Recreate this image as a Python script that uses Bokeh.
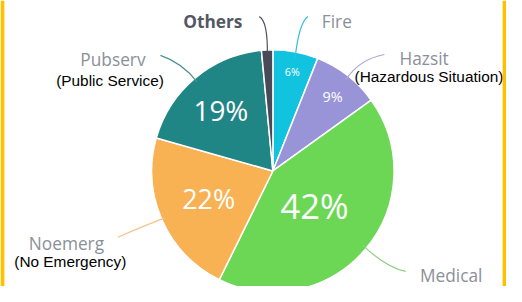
import math
from bokeh.plotting import figure
from bokeh.models import ColumnDataSource
from bokeh.core.properties import value
from bokeh.embed import file_html
from bokeh.resources import INLINE

# ---- data ----
categories = ["Fire", "Hazsit", "Medical", "Noemerg", "Pubserv", "Others"]
subtitles = ["", "(Hazardous Situation)", "", "(No Emergency)", "(Public Service)", ""]
shares = [6, 9, 42, 22, 19, 1.5]
pct_labels = ["6%", "9%", "42%", "22%", "19%", ""]

# ---- styles ----
colors = ["#12c3e0", "#9994d8", "#6bd755", "#f8b153", "#1f8585", "#474a58"]
leader_colors = ["#2ec0dc", "#a9a5de", "#8cd07f", "#f2c48c", "#4a8f8f", "#4c4f5c"]
pct_r = [0.85, 0.80, 0.45, 0.58, 0.67, 0]
pct_size = [11, 15, 36, 28, 29, 0]
# label anchor (reference pixel coords: x right, y down)
name_pos = [(347, 22), (437, 61), (465, 290), (68, 257), (116, 62), (219, 22)]
sub_pos = [None, (442, 80), None, (72, 276), (113, 84), None]
leader_end = [(317, 17), (396, 57), (418, 286), (121, 250), (165, 58), (267, 17)]
leader_ctrl = [(308, 24), (370, 62), (398, 282), (148, 238), (188, 66), (276, 22)]

W, H = 522, 302
cx, cy, R = 281, 180, 125
S = 0.96


def fy(y):
    return H - y


p = figure(width=506, height=286, x_range=(0, W), y_range=(0, H),
           output_backend="svg", toolbar_location=None, min_border=0)
p.axis.visible = False
p.grid.visible = False
p.outline_line_color = None
p.background_fill_color = "white"
p.border_fill_color = "white"

total = sum(shares)
starts, ends, mids = [], [], []
acc = 0.0
for s in shares:
    f0 = acc / total
    acc += s
    f1 = acc / total
    starts.append(math.pi / 2 - 2 * math.pi * f0)
    ends.append(math.pi / 2 - 2 * math.pi * f1)
    mids.append(2 * math.pi * (f0 + f1) / 2)  # clockwise from top

src = ColumnDataSource(dict(start=starts, end=ends, color=colors))
p.wedge(x=cx, y=fy(cy), radius=R, start_angle="start", end_angle="end",
        direction="clock", fill_color="color", line_color="white",
        line_width=1.5, source=src)

# percentage labels
for i, t in enumerate(pct_labels):
    if not t:
        continue
    a = mids[i]
    x = cx + R * pct_r[i] * math.sin(a)
    y = cy - R * pct_r[i] * math.cos(a)
    p.text(x=[x], y=[fy(y)], text=[t], text_color="white",
           text_font=value("Open Sans"), text_font_size=f"{pct_size[i]*S:.1f}px",
           text_align="center", text_baseline="middle")

# leader lines
for i in range(len(categories)):
    a = mids[i]
    x0 = cx + (R - 3) * math.sin(a)
    y0 = cy - (R - 3) * math.cos(a)
    x1, y1 = leader_end[i]
    qx, qy = leader_ctrl[i]
    p.quadratic(x0=[x0], y0=[fy(y0)], x1=[x1], y1=[fy(y1)], cx=[qx], cy=[fy(qy)],
                line_color=leader_colors[i], line_width=1.2)

# category names
for i, name in enumerate(categories):
    x, y = name_pos[i]
    bold = name == "Others"
    p.text(x=[x], y=[fy(y)], text=[name],
           text_color="#545865" if bold else "#8b9098",
           text_font=value("Open Sans"), text_font_size=f"{18*S:.1f}px",
           text_font_style="bold" if bold else "normal",
           text_align="center", text_baseline="middle")
    if sub_pos[i]:
        sx, sy = sub_pos[i]
        p.text(x=[sx], y=[fy(sy)], text=[subtitles[i]], text_color="black",
               text_font=value("Liberation Sans"), text_font_size=f"{16*S:.1f}px",
               text_align="center", text_baseline="middle")

# yellow side borders
p.quad(left=[0, W - 4], right=[4, W], bottom=[0, 0], top=[H, H],
       fill_color="#FFC000", line_color=None)

open("out.html", "w").write(file_html(p, INLINE))
